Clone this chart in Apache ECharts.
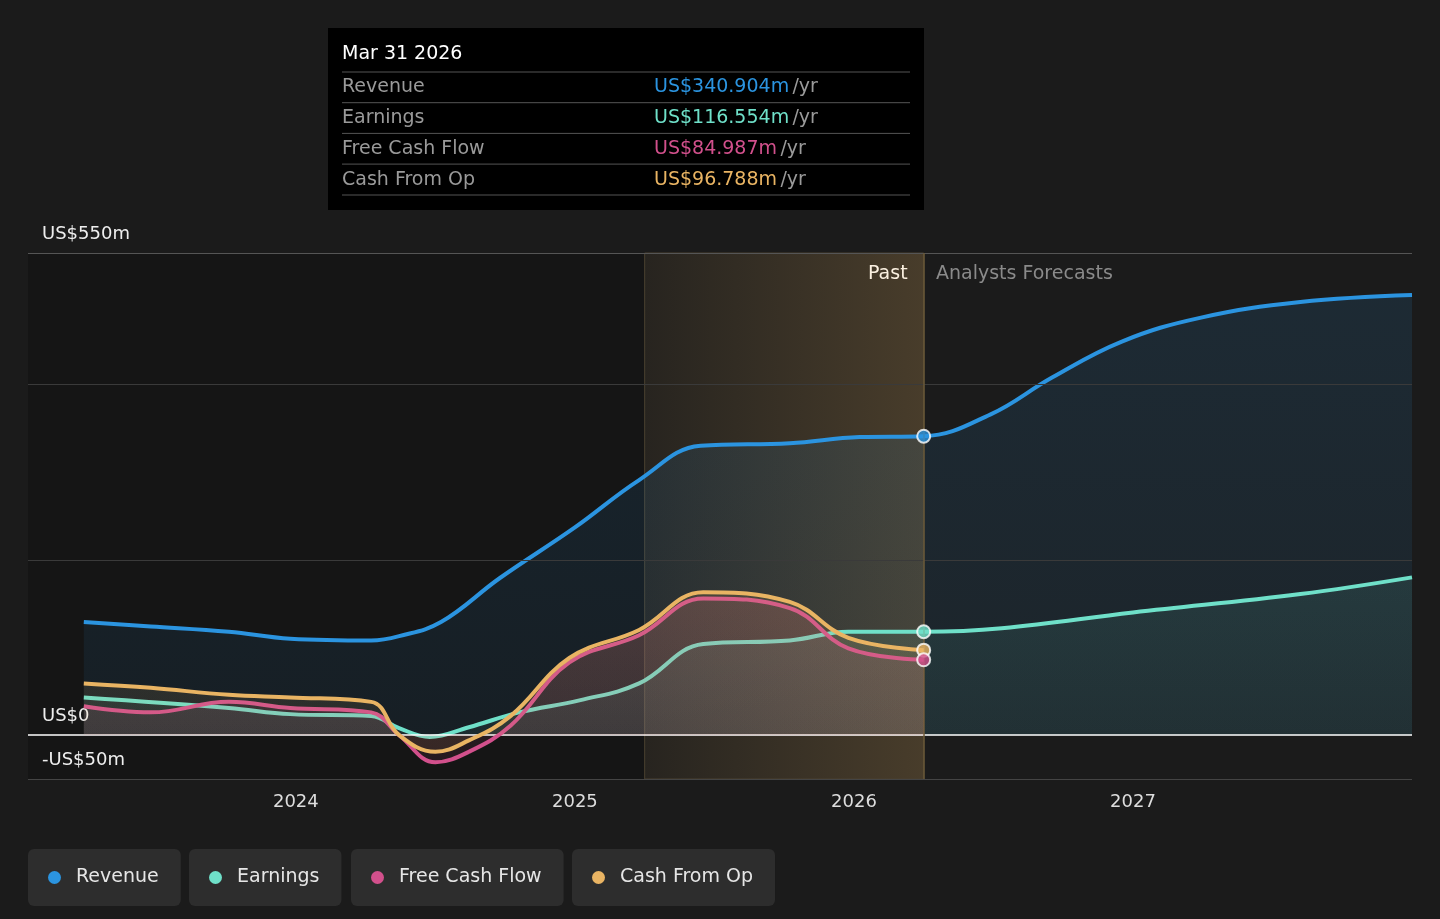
<!DOCTYPE html>
<html><head><meta charset="utf-8">
<script src="https://cdn.jsdelivr.net/npm/echarts@6/dist/echarts.min.js"></script>
<style>html,body{margin:0;background:#1b1b1b}#c{width:1440px;height:919px}</style>
</head><body><div id="c"></div>
<script>
// x values are decimal years
const revenue = [[2023.24,129],[2023.48,124],[2023.76,118],[2023.98,110],[2024.27,108],[2024.37,113],[2024.52,129],[2024.73,179],[2025.0,237],[2025.23,291],[2025.45,330],[2025.77,333],[2026.02,340],[2026.25,341],
  [2026.49,366],[2026.71,408],[2026.96,449],[2027.24,476],[2027.6,494],[2028.0,502]];
const earnings = [[2023.24,43],[2023.76,31],[2023.98,24],[2024.27,22],[2024.37,8],[2024.48,-2],[2024.62,9],[2024.8,26],[2025.02,40],[2025.23,59],[2025.46,104],[2025.77,108],[2025.98,118],[2026.25,118],
  [2026.53,122],[2027.0,140],[2027.6,161],[2028.0,180]];
const fcf = [[2023.24,33],[2023.48,26],[2023.76,38],[2023.98,31],[2024.27,26],[2024.37,0],[2024.5,-31],[2024.62,-19],[2024.77,11],[2024.98,83],[2025.23,114],[2025.46,156],[2025.77,145],[2025.98,99],[2026.25,86]];
const cfo = [[2023.24,59],[2023.48,54],[2023.76,46],[2023.98,43],[2024.27,38],[2024.37,0],[2024.5,-19],[2024.62,-6],[2024.77,22],[2024.98,88],[2025.23,120],[2025.46,163],[2025.77,152],[2025.98,111],[2026.25,97]];
const yearTicks = [2024,2025,2026,2027];
const gridLines = [200,400];
const pastStart = 2025.25, pastEnd = 2026.25;
const C = {rev:'#2b94e0', earn:'#6fe0c9', fcf:'#d2508c', cfo:'#e9b463'};
const FONT = 'DejaVu Sans';

const chart = echarts.init(document.getElementById('c'));
const fill = (c,a1,a2)=>({type:'linear',x:0,y:0,x2:0,y2:1,colorStops:[{offset:0,color:echarts.color.modifyAlpha(c,a1)},{offset:1,color:echarts.color.modifyAlpha(c,a2)}]});
const line = (name,data,c,areaA,z) => ({name,type:'line',data,smooth:0.4,symbol:'none',z,
  lineStyle:{color:c,width:4},itemStyle:{color:c},areaStyle:{color:fill(c,areaA,areaA*0.6),origin:0}});
const dot = (c,v)=>({type:'scatter',data:[[pastEnd,v]],symbolSize:13,z:10,itemStyle:{color:c,borderColor:'#fff',borderWidth:2},silent:true});
const legend = (name,c,left)=>({data:[name],left,top:849,backgroundColor:'#2d2d2d',borderRadius:6,padding:[19,22,19,20],
  icon:'circle',itemWidth:13,itemHeight:13,itemGap:0,textStyle:{color:'#e6e6e6',fontSize:19,fontFamily:FONT,padding:[0,0,0,10]},selectedMode:false,
  itemStyle:{color:c}});
const yLbl = (v,text,color,w)=>({yAxis:v,lineStyle:{color,width:w,type:'solid'},
  label:{show:true,position:'insideStartTop',formatter:text,color:'#eee',fontSize:18,fontFamily:FONT,distance:[14,10]}});
const tipRows = [['Revenue','US$340.904m',C.rev],['Earnings','US$116.554m',C.earn],['Free Cash Flow','US$84.987m',C.fcf],['Cash From Op','US$96.788m',C.cfo]];
const graphic = [{type:'rect',shape:{x:328,y:28,width:596,height:182},style:{fill:'#000'}},
  {type:'text',x:342,y:45,style:{text:'Mar 31 2026',fill:'#fff',font:'19px DejaVu Sans'}}];
tipRows.forEach((r,i)=>{const y=72+i*30.7;
  graphic.push({type:'line',shape:{x1:342,y1:y,x2:910,y2:y},style:{stroke:'#555',lineWidth:1}});
  graphic.push({type:'text',x:342,y:y+6,style:{text:r[0],fill:'#9a9a9a',font:'19px DejaVu Sans'}});
  graphic.push({type:'text',x:654,y:y+6,style:{rich:{a:{fill:r[2],font:'19px DejaVu Sans'},b:{fill:'#9a9a9a',font:'19px DejaVu Sans'}},text:'{a|'+r[1]+'} {b|/yr}'}});
});
graphic.push({type:'line',shape:{x1:342,y1:195,x2:910,y2:195},style:{stroke:'#555',lineWidth:1}});
graphic.push({type:'text',x:868,y:265,style:{text:'Past',fill:'#fff',font:'19px DejaVu Sans'}});
graphic.push({type:'text',x:936,y:265,style:{text:'Analysts Forecasts',fill:'#8a8a8a',font:'19px DejaVu Sans'}});

chart.setOption({
  backgroundColor:'#1b1b1b', animation:false,
  textStyle:{fontFamily:FONT},
  grid:{left:28,right:28,top:253,bottom:140},
  legend:[legend('Revenue',C.rev,28),legend('Earnings',C.earn,189),legend('Free Cash Flow',C.fcf,351),legend('Cash From Op',C.cfo,572)],
  graphic,
  xAxis:{type:'value',min:2023.04,max:2028.0,splitLine:{show:false},axisTick:{show:false},
    axisLine:{show:false},
    axisLabel:{customValues:yearTicks,color:'#ddd',fontSize:18,fontFamily:FONT,margin:14,formatter:v=>String(Math.round(v))}},
  yAxis:{type:'value',min:-50,max:550,splitLine:{show:false},axisLine:{show:false},axisTick:{show:false},axisLabel:{show:false}},
  series:[
    {type:'line',data:[],markLine:{silent:true,symbol:'none',label:{show:false},
      data:[...gridLines.map(v=>({yAxis:v,lineStyle:{color:'#3a3a3a',width:1,type:'solid'}})),
        yLbl(550,'US$550m','#555',1),yLbl(0,'US$0','#fff',1.5),yLbl(-50,'-US$50m','#444',1),
        {xAxis:pastEnd,lineStyle:{color:'#6b5a38',width:1.5,type:'solid'}}]},
      markArea:{silent:true,data:[
        [{xAxis:2023.04,itemStyle:{color:'#151515'}},{xAxis:pastStart}],
        [{xAxis:pastStart,itemStyle:{color:{type:'linear',x:0,y:0,x2:1,y2:0,colorStops:[{offset:0,color:'rgba(233,180,99,0.06)'},{offset:1,color:'rgba(233,180,99,0.22)'}]},borderColor:'#4a4030',borderWidth:1}},{xAxis:pastEnd}]]}},
    line('Revenue',revenue,C.rev,0.18,3),
    line('Earnings',earnings,C.earn,0.15,4),
    line('Free Cash Flow',fcf,C.fcf,0.2,5),
    line('Cash From Op',cfo,C.cfo,0.2,6),
    dot(C.rev,341),dot(C.earn,118),dot(C.cfo,97),dot(C.fcf,86)
  ]
});
</script></body></html>
